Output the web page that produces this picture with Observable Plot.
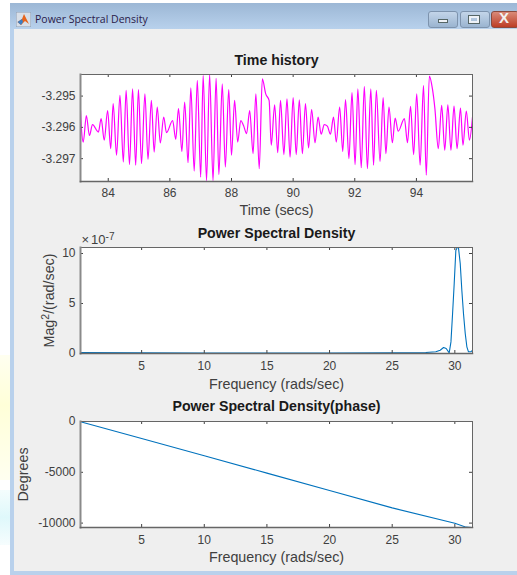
<!DOCTYPE html>
<html><head><meta charset="utf-8">
<script src="https://cdn.jsdelivr.net/npm/d3@7"></script>
<script src="https://cdn.jsdelivr.net/npm/@observablehq/plot@0.6"></script>
<style>
html,body{margin:0;padding:0;background:#fff;overflow:hidden}
#page{position:relative;width:517px;height:575px;overflow:hidden;background:#fff;font-family:"Liberation Sans",Arial,sans-serif}
#page>div,#page>svg,.panel{position:absolute}
.panel svg{display:block;background:transparent;overflow:visible}
</style></head><body>
<div id="page">
<div style="left:0;top:355px;width:10px;height:125px;background:linear-gradient(#fffff0,#ffffd8 40%,#fffff0)"></div>
<div style="left:0;top:490px;width:10px;height:55px;background:linear-gradient(#f4fdfd,#dff8fb,#f6fdfe)"></div>
<div style="left:10px;top:3px;width:507px;height:572px;background:#b9d1ec"></div>
<div style="left:10px;top:3px;width:507px;height:27px;background:linear-gradient(#9cb7d5,#b9d2ed)"></div>
<div style="left:14px;top:29px;width:503px;height:542px;background:#efefef"></div>
<svg style="left:16px;top:12px" width="15" height="15" viewBox="0 0 15 15"><rect width="15" height="15" fill="#d8dfe8" stroke="#8a9cb2"/><path d="M1.5 10 L6 7 L8 2 L13 12 L9 9 L5 13Z" fill="#e8641b"/><path d="M1.5 10 L6 7 L7 10 L5 13Z" fill="#3c7fc4"/></svg>
<div style="left:35px;top:12px;font:10.5px 'Open Sans','Liberation Sans',sans-serif;color:#2a1a4a;white-space:nowrap">Power Spectral Density</div>
<div style="left:428px;top:11px;width:28px;height:15px;border:1px solid #7d93ad;border-radius:3px;background:linear-gradient(#c3d5e9,#9ab4d0)"></div>
<div style="left:438px;top:19px;width:8px;height:2px;background:#eef2f7;border:1px solid #566"></div>
<div style="left:460px;top:11px;width:28px;height:15px;border:1px solid #7d93ad;border-radius:3px;background:linear-gradient(#c3d5e9,#9ab4d0)"></div>
<div style="left:469px;top:16px;width:6px;height:3px;border:2px solid #eef2f7;outline:1px solid #566"></div>
<div style="left:491px;top:11px;width:26px;height:15px;border:1px solid #8b4a3e;border-radius:3px;background:linear-gradient(#d98a78,#bd3d26)"></div>
<div style="left:499px;top:9px;font:bold 15px 'Liberation Sans',sans-serif;color:#f2f2f2">X</div>
</div>
<script>
const timeSecs = [83.10,83.13,83.19,83.29,83.39,83.49,83.68,83.77,83.87,83.98,84.08,84.16,84.27,84.38,84.49,84.58,84.69,84.79,84.89,84.98,85.08,85.19,85.29,85.40,85.49,85.59,85.69,85.80,85.89,86.09,86.19,86.28,86.39,86.48,86.59,86.68,86.79,86.89,87.00,87.08,87.19,87.29,87.40,87.50,87.59,87.70,87.80,87.91,88.00,88.10,88.20,88.30,88.39,88.49,88.59,88.70,88.79,88.90,89.00,89.11,89.22,89.29,89.40,89.50,89.59,89.70,89.80,89.90,90.00,90.10,90.20,90.30,90.40,90.50,90.60,90.71,90.81,90.91,91.01,91.11,91.21,91.31,91.40,91.51,91.61,91.70,91.81,91.91,92.01,92.10,92.21,92.31,92.41,92.52,92.61,92.70,92.82,92.92,93.01,93.11,93.22,93.31,93.41,93.61,93.71,93.81,93.91,94.01,94.12,94.23,94.32,94.42,94.52,94.60,94.71,94.82,94.92,95.02,95.12,95.22,95.32,95.43,95.51,95.62,95.72,95.82];
const signal = [-3.29546,-3.29604,-3.29647,-3.29562,-3.29626,-3.29591,-3.29615,-3.29572,-3.29641,-3.29546,-3.29668,-3.29524,-3.29689,-3.29498,-3.29711,-3.29482,-3.29719,-3.29477,-3.29721,-3.29479,-3.29716,-3.29493,-3.29702,-3.29514,-3.29679,-3.29535,-3.2965,-3.29567,-3.29617,-3.29578,-3.29638,-3.2954,-3.29677,-3.29519,-3.29713,-3.29474,-3.2974,-3.2945,-3.29759,-3.29434,-3.2977,-3.29431,-3.2977,-3.29443,-3.29751,-3.29461,-3.29727,-3.29479,-3.29689,-3.29514,-3.29647,-3.29578,-3.29594,-3.2962,-3.29546,-3.29684,-3.29493,-3.29732,-3.29445,-3.29493,-3.29514,-3.29657,-3.29528,-3.29681,-3.29514,-3.29687,-3.29509,-3.29695,-3.29505,-3.29687,-3.29512,-3.29684,-3.29524,-3.29666,-3.29543,-3.29649,-3.29567,-3.29622,-3.29591,-3.29596,-3.29622,-3.29567,-3.29647,-3.29535,-3.29677,-3.29511,-3.297,-3.29489,-3.29719,-3.29477,-3.29729,-3.29469,-3.29732,-3.29477,-3.29721,-3.29482,-3.29709,-3.29505,-3.29684,-3.29535,-3.29649,-3.2957,-3.29612,-3.29572,-3.29649,-3.29533,-3.29687,-3.29493,-3.29721,-3.29466,-3.29753,-3.29436,-3.29477,-3.2954,-3.29668,-3.2953,-3.29673,-3.29528,-3.29673,-3.29532,-3.29668,-3.29538,-3.29657,-3.29548,-3.29641,-3.29567];
const psdFreq = [0.12,5,10,15,20,25,27.68,28.48,28.83,29.10,29.31,29.55,29.69,29.82,29.95,30.08,30.27,30.43,30.56,30.69,30.83,30.96,31.09,31.28,31.41];
const psdMag = [0.1,0.06,0.05,0.05,0.05,0.06,0.1,0.17,0.33,0.6,0.5,0.06,1.16,4.0,7.0,10.3,10.8,9.0,6.3,4.0,2.0,0.67,0.17,0.17,0.33];
const phaseFreq = [0.12,5,10,15,20,25,30,30.9,31.41];
const phaseDeg = [-20,-1670,-3370,-5080,-6800,-8500,-10010,-10400,-10430];
const timeTicks = [84,86,88,90,92,94];
const signalTicks = [-3.295,-3.296,-3.297];
const freqTicks = [5,10,15,20,25,30];
const magTicks = [0,5,10];
const phaseTicks = [0,-5000,-10000];

const ink = "#404040", W = 517, FONT = '"Liberation Sans",Arial,sans-serif';
function panel({top, height, marginTop, marginBottom, xDomain, yDomain, xTicks, yTicks, yFmt, xLabel, xLabelDy, tickPad, yLabel, title, titleDy, xs, ys, color, curve = "linear", sw = 1.1, extra = [], yLabelX}) {
  const innerH = height - marginTop - marginBottom;
  const inner = 392;
  const p = Plot.plot({
    width: W, height, marginLeft: 80, marginRight: 45, marginTop, marginBottom,
    style: {background: "transparent", fontFamily: FONT, fontSize: "12px", color: ink},
    x: {domain: xDomain}, y: {domain: yDomain},
    marks: [
      Plot.frame({fill: "#fff", stroke: "none"}),
      Plot.line(xs.map((x, i) => ({x, y: ys[i]})), {x: "x", y: "y", stroke: color, strokeWidth: sw, clip: true, curve}),
      Plot.tickX(xTicks, {x: d => d, stroke: ink, insetTop: innerH - 3}),
      Plot.tickX(xTicks, {x: d => d, stroke: ink, insetBottom: innerH - 3}),
      Plot.tickY(yTicks, {y: d => d, stroke: ink, insetRight: inner - 3}),
      Plot.tickY(yTicks, {y: d => d, stroke: ink, insetLeft: inner - 3}),
      Plot.frame({stroke: "#666", strokeWidth: 1}),
      Plot.frame({anchor: "left", stroke: "#8a8a8a", strokeWidth: 2}),
      Plot.frame({anchor: "bottom", stroke: "#666", strokeWidth: 1.5}),
      Plot.axisX({ticks: xTicks, tickSize: 0, tickPadding: tickPad, tickFormat: d => String(d), fontSize: 12, fill: ink, label: null}),
      Plot.axisY({ticks: yTicks, tickSize: 0, tickPadding: 5, tickFormat: yFmt, fontSize: 12, fill: ink, label: null}),
      Plot.text([xLabel], {frameAnchor: "bottom", dy: marginBottom - 9 + xLabelDy, fontSize: 14.3, fill: ink, text: d => d, lineAnchor: "bottom"}),
      Plot.text([yLabel], {frameAnchor: "left", dx: yLabelX, rotate: -90, textAnchor: "middle", fontSize: 14.3, fill: ink, text: d => d}),
      Plot.text([title], {frameAnchor: "top", dy: titleDy, fontSize: 14.2, fontWeight: "bold", fill: "#1a1a1a", text: d => d, lineAnchor: "bottom"}),
      ...extra
    ]
  });
  p.querySelectorAll("text").forEach(t => {
    if (t.textContent === "Mag2/(rad/sec)") t.innerHTML = 'Mag<tspan dy="-5" font-size="10.5">2</tspan><tspan dy="5">/(rad/sec)</tspan>';
    if (t.textContent === "×10-7") t.innerHTML = '×<tspan dx="2">10</tspan><tspan dy="-4" font-size="10">-7</tspan>';
  });
  const box = document.createElement("div");
  box.className = "panel";
  box.style.cssText = `left:0;top:${top}px;width:${W}px;height:${height}px`;
  box.appendChild(p);
  document.getElementById("page").appendChild(box);
}
panel({top: 50, height: 170, marginTop: 24, marginBottom: 39,
  xDomain: [83.1, 95.82], yDomain: [-3.29773, -3.29431],
  xTicks: timeTicks, yTicks: signalTicks, yFmt: d => d.toFixed(3),
  xLabel: "Time (secs)", xLabelDy: 3, tickPad: 7, yLabel: "", title: "Time history", titleDy: -10,
  xs: timeSecs, ys: signal, color: "#ff00ff", curve: "monotone-x", sw: 1.2, yLabelX: -31});
panel({top: 225, height: 168, marginTop: 22, marginBottom: 40,
  xDomain: [0.12, 31.41], yDomain: [0, 10.6],
  xTicks: freqTicks, yTicks: magTicks, yFmt: d => String(d),
  xLabel: "Frequency (rads/sec)", xLabelDy: 4, tickPad: 8, yLabel: "Mag2/(rad/sec)", title: "Power Spectral Density", titleDy: -10,
  xs: psdFreq, ys: psdMag, color: "#0072BD", yLabelX: -31,
  extra: [Plot.text(["×10-7"], {frameAnchor: "top-left", dx: 1, dy: -13, fontSize: 13, fill: ink, text: d => d, textAnchor: "start"})]});
panel({top: 395, height: 175, marginTop: 26, marginBottom: 43,
  xDomain: [0.12, 31.41], yDomain: [-10433, 0],
  xTicks: freqTicks, yTicks: phaseTicks, yFmt: d => String(d),
  xLabel: "Frequency (rads/sec)", xLabelDy: 0, tickPad: 8, yLabel: "Degrees", title: "Power Spectral Density(phase)", titleDy: -11,
  xs: phaseFreq, ys: phaseDeg, color: "#0072BD", yLabelX: -57});
</script>
</body></html>
